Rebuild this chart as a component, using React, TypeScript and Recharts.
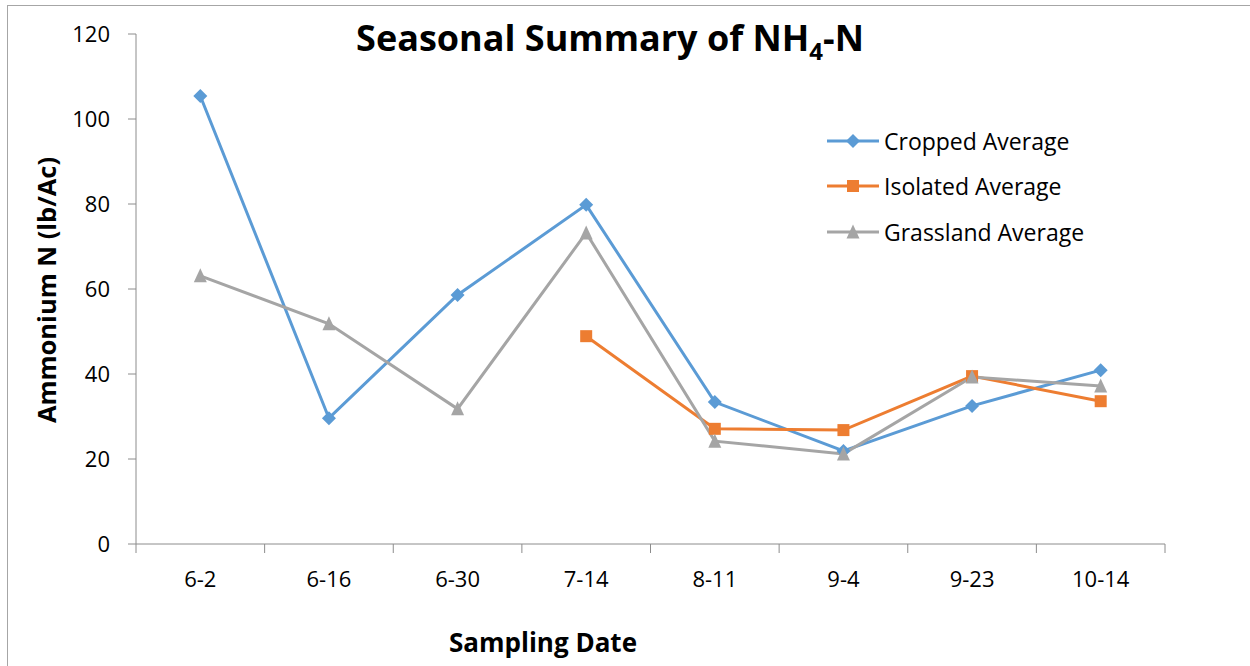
import React from 'react';
import { LineChart, Line, XAxis, YAxis, Legend } from 'recharts';

// Sampling dates and averages (lb/Ac)
const DATES = ['6-2', '6-16', '6-30', '7-14', '8-11', '9-4', '9-23', '10-14'];
const CROPPED = [105.4, 29.6, 58.6, 79.8, 33.4, 21.9, 32.5, 40.9];
const ISOLATED = [null, null, null, 48.9, 27.1, 26.8, 39.5, 33.6];
const GRASSLAND = [63.1, 51.8, 31.8, 73.2, 24.2, 21.2, 39.3, 37.2];
const Y_TICKS = [0, 20, 40, 60, 80, 100, 120];

const COLORS = {
  cropped: '#5B9BD5',
  isolated: '#ED7D31',
  grassland: '#A5A5A5',
  axis: '#8c8c8c',
};

const FONT = '"Open Sans", "Liberation Sans", sans-serif';

// x = index + 0.5 so the boundary ticks fall on whole numbers, like Excel
const data = DATES.map((d, i) => ({
  x: i + 0.5,
  date: d,
  cropped: CROPPED[i],
  isolated: ISOLATED[i],
  grassland: GRASSLAND[i],
}));

const xTicks: number[] = [];
for (let i = 0; i <= DATES.length * 2; i++) xTicks.push(i / 2);

const XTick = (props: any) => {
  const { x, y, payload } = props;
  const v = payload.value;
  if (Number.isInteger(v)) {
    return <line x1={x} y1={y} x2={x} y2={y + 9} stroke={COLORS.axis} strokeWidth={1} />;
  }
  return (
    <text x={x} y={y + 37} textAnchor="middle" dominantBaseline="middle"
      fontFamily={FONT} fontSize={22} fill="#000">
      {DATES[Math.floor(v)]}
    </text>
  );
};

const Diamond = ({ cx, cy, color, r = 7 }: any) =>
  cx == null || cy == null ? null : (
    <polygon points={`${cx},${cy - r} ${cx + r},${cy} ${cx},${cy + r} ${cx - r},${cy}`} fill={color} />
  );

const Square = ({ cx, cy, color, s = 12 }: any) =>
  cx == null || cy == null ? null : (
    <rect x={cx - s / 2} y={cy - s / 2} width={s} height={s} fill={color} />
  );

const Triangle = ({ cx, cy, color, s = 13 }: any) =>
  cx == null || cy == null ? null : (
    <polygon points={`${cx},${cy - s / 2 - 1} ${cx + s / 2},${cy + s / 2} ${cx - s / 2},${cy + s / 2}`} fill={color} />
  );

const SERIES = [
  { key: 'cropped', name: 'Cropped Average', color: COLORS.cropped, Marker: Diamond },
  { key: 'isolated', name: 'Isolated Average', color: COLORS.isolated, Marker: Square },
  { key: 'grassland', name: 'Grassland Average', color: COLORS.grassland, Marker: Triangle },
];

const renderLegend = () => (
  <div style={{ fontFamily: FONT, fontSize: 23 }}>
    {SERIES.map(s => (
      <div key={s.key} style={{ display: 'flex', alignItems: 'center', height: 45.5 }}>
        <svg width={54} height={20} style={{ marginRight: 4 }}>
          <line x1={1} y1={10} x2={53} y2={10} stroke={s.color} strokeWidth={3} />
          <s.Marker cx={27} cy={10} color={s.color} />
        </svg>
        <span style={{ color: '#000' }}>{s.name}</span>
      </div>
    ))}
  </div>
);

export default function App() {
  return (
    <div style={{
      position: 'absolute', left: 7, top: 5, width: 1300, height: 700,
      border: '1px solid #a6a6a6', boxSizing: 'border-box', background: '#fff',
    }}>
      <div style={{
        position: 'absolute', left: 602, top: 34, transform: 'translate(-50%, -50%)',
        fontFamily: FONT, fontWeight: 700, fontSize: 36, whiteSpace: 'nowrap', color: '#000',
      }}>
        Seasonal Summary of NH<sub style={{ fontSize: 24 }}>4</sub>-N
      </div>
      <div style={{
        position: 'absolute', left: 38, top: 284, transform: 'translate(-50%, -50%) rotate(-90deg)',
        fontFamily: FONT, fontWeight: 700, fontSize: 25.5, whiteSpace: 'nowrap', color: '#000',
      }}>
        Ammonium N (lb/Ac)
      </div>
      <div style={{
        position: 'absolute', left: 535, top: 636, transform: 'translate(-50%, -50%)',
        fontFamily: FONT, fontWeight: 700, fontSize: 26, whiteSpace: 'nowrap', color: '#000',
      }}>
        Sampling Date
      </div>
      <div style={{ position: 'absolute', left: 0, top: 0 }}>
        <LineChart width={1240} height={650} data={data}
          margin={{ top: 28, right: 83, bottom: 52, left: 48 }}>
          <XAxis dataKey="x" type="number" domain={[0, DATES.length]} ticks={xTicks} interval={0}
            height={60} tickSize={0} tickMargin={0} tickLine={false}
            axisLine={{ stroke: COLORS.axis }} tick={<XTick />} />
          <YAxis type="number" domain={[0, 120]} ticks={Y_TICKS} interval={0} width={80}
            tickSize={8} tickMargin={18} axisLine={{ stroke: COLORS.axis }}
            tickLine={{ stroke: COLORS.axis }}
            tick={{ fontFamily: FONT, fontSize: 22, fill: '#000' }} />
          <Legend layout="vertical" align="center" verticalAlign="middle" content={renderLegend}
            wrapperStyle={{ left: 818, top: 112, width: 320, height: 140 }} />
          {SERIES.map(s => (
            <Line key={s.key} dataKey={s.key} name={s.name} stroke={s.color} strokeWidth={3}
              isAnimationActive={false} connectNulls={false}
              dot={(p: any) => <s.Marker key={`${s.key}-${p.index}`} cx={p.cx} cy={p.cy} color={s.color} />}
              activeDot={false} />
          ))}
        </LineChart>
      </div>
    </div>
  );
}
